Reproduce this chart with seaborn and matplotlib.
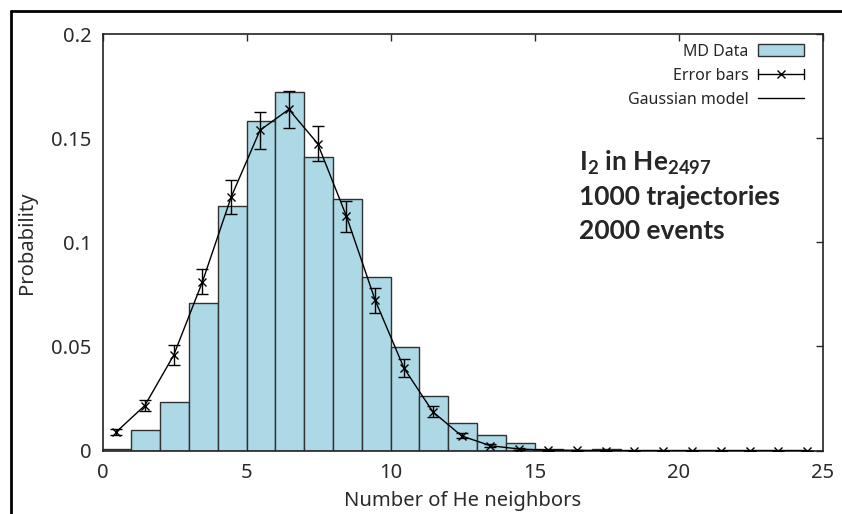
import numpy as np
import pandas as pd
import seaborn as sns
import matplotlib.pyplot as plt
from matplotlib.lines import Line2D
from matplotlib.patches import Patch
from matplotlib.legend_handler import HandlerBase

# Histogram: bin edges and probabilities
bin_edges = [0, 1, 2, 3, 4, 5, 6, 7, 8, 9, 10, 11, 12, 13, 14, 15, 16, 17, 18, 19, 20, 21, 22, 23, 24, 25]
bin_centers = [0.5, 1.5, 2.5, 3.5, 4.5, 5.5, 6.5, 7.5, 8.5, 9.5, 10.5, 11.5, 12.5,
               13.5, 14.5, 15.5, 16.5, 17.5, 18.5, 19.5, 20.5, 21.5, 22.5, 23.5, 24.5]
bin_probs = [0.0008, 0.0100, 0.0234, 0.0708, 0.1176, 0.1580, 0.1720, 0.1410, 0.1210, 0.0835,
             0.0497, 0.0261, 0.0131, 0.0074, 0.0037, 0.0008, 0.0, 0.0006, 0.0, 0.0,
             0.0, 0.0, 0.0, 0.0, 0.0]

# Error-bar points / Gaussian model
pt_x = [0.47, 1.47, 2.47, 3.47, 4.47, 5.47, 6.47, 7.47, 8.47, 9.47, 10.47, 11.47, 12.47,
        13.47, 14.47, 15.47, 16.47, 17.47, 18.47, 19.47, 20.47, 21.47, 22.47, 23.47, 24.47]
pt_y = [0.0088, 0.0216, 0.0457, 0.0810, 0.1218, 0.1538, 0.1638, 0.1474, 0.1125, 0.0721,
        0.0395, 0.0186, 0.0070, 0.0023, 0.0007, 0.0002, 0.0001, 0.0, 0.0, 0.0,
        0.0, 0.0, 0.0, 0.0, 0.0]
pt_err = [0.0015, 0.0025, 0.0048, 0.0060, 0.0080, 0.0089, 0.0090, 0.0086, 0.0075, 0.0060,
          0.0044, 0.0026, 0.0012, 0.0006, 0.0003, 0.0002, 0.0001, 0.0, 0.0, 0.0,
          0.0, 0.0, 0.0, 0.0, 0.0]

x_ticks = [0, 5, 10, 15, 20, 25]
y_ticks = [0, 0.05, 0.1, 0.15, 0.2]
y_ticklabels = ["0", "0.05", "0.1", "0.15", "0.2"]

BAR_COLOR = "#ADD8E6"
EDGE_COLOR = "#303030"
TEXT_COLOR = "#2a2a2a"


class ErrorBarHandler(HandlerBase):
    """gnuplot-like error bar sample: |--x--|"""

    def create_artists(self, legend, orig_handle, xdescent, ydescent, width, height, fontsize, trans):
        y = (height - ydescent) / 2
        x0, x1 = -xdescent, width - xdescent
        cap = height * 0.45
        line = Line2D([x0, x1], [y, y], color="black", lw=1.0)
        caps = Line2D([x0, x0, np.nan, x1, x1], [y - cap, y + cap, np.nan, y - cap, y + cap],
                      color="black", lw=1.0)
        mark = Line2D([(x0 + x1) / 2], [y], color="black", lw=0, marker="x", markersize=6)
        for a in (line, caps, mark):
            a.set_transform(trans)
        return [line, caps, mark]


sns.set_style("white")
plt.rcParams["font.family"] = ["Noto Sans", "DejaVu Sans"]
plt.rcParams["mathtext.fontset"] = "custom"
plt.rcParams["mathtext.rm"] = "Lato:bold"
plt.rcParams["mathtext.it"] = "Lato:bold"
plt.rcParams["mathtext.bf"] = "Lato:bold"

fig = plt.figure(figsize=(8.42, 5.14), dpi=100)
ax = fig.add_axes([102.5 / 842, 1 - 450.5 / 514, (822.5 - 102.5) / 842, (450.5 - 34) / 514])

df = pd.DataFrame({"n": bin_centers, "p": bin_probs})
sns.histplot(data=df, x="n", weights="p", bins=bin_edges, color=BAR_COLOR,
             edgecolor=EDGE_COLOR, linewidth=1.0, alpha=1, ax=ax)

# Gaussian model line
sns.lineplot(x=pt_x, y=pt_y, color="black", linewidth=1.0, ax=ax, zorder=3)

# Error bars
ax.errorbar(pt_x, pt_y, yerr=pt_err, fmt="x", color="black", markersize=6,
            capsize=4, elinewidth=1.0, capthick=1.0, zorder=4)

ax.set_xlim(0, 25)
ax.set_ylim(0, 0.2)
ax.set_xticks(x_ticks)
ax.set_yticks(y_ticks)
ax.set_yticklabels(y_ticklabels)
ax.tick_params(direction="in", length=5, width=1, top=True, right=True,
               labeltop=False, labelright=False, labelsize=14.5, colors=TEXT_COLOR,
               pad=8)
ax.tick_params(axis="x", pad=9)
for side in ["left", "right", "top", "bottom"]:
    ax.spines[side].set_visible(True)
    ax.spines[side].set_color("#222222")
    ax.spines[side].set_linewidth(1.2)

ax.set_xlabel("Number of He neighbors", fontsize=14.5, color=TEXT_COLOR, labelpad=6)
ax.set_ylabel("Probability", fontsize=14.5, color=TEXT_COLOR, labelpad=10)

# Legend (gnuplot style: text first, sample on the right)
md = Patch(facecolor=BAR_COLOR, edgecolor=EDGE_COLOR, linewidth=1.0)
err_handle = Line2D([], [], color="black")
gauss = Line2D([], [], color="black", lw=1.0)
ax.legend([md, err_handle, gauss], ["MD Data", "Error bars", "Gaussian model"],
          handler_map={err_handle: ErrorBarHandler()},
          markerfirst=False, frameon=False, loc="upper right", fontsize=11.5,
          handlelength=2.85, handletextpad=0.6, labelspacing=0.5,
          borderaxespad=0.2, bbox_to_anchor=(0.987, 1.0))

# Annotation
fig.text(579 / 842, 1 - 163 / 514, "I$_{2}$ in He$_{2497}$", fontsize=19,
         family="Lato", fontweight="bold", va="center", ha="left")
fig.text(579 / 842, 1 - 197 / 514, "1000 trajectories", fontsize=19,
         family="Lato", fontweight="bold", va="center", ha="left")
fig.text(579 / 842, 1 - 231 / 514, "2000 events", fontsize=19,
         family="Lato", fontweight="bold", va="center", ha="left")

# Outer frame of the screenshot (left and top)
fig.add_artist(Line2D([10.5 / 842, 10.5 / 842], [0, 1 - 11 / 514],
                      transform=fig.transFigure, color="black", lw=2))
fig.add_artist(Line2D([10.5 / 842, 1], [1 - 11 / 514, 1 - 11 / 514],
                      transform=fig.transFigure, color="black", lw=2))

fig.savefig("out.png", dpi=100)
